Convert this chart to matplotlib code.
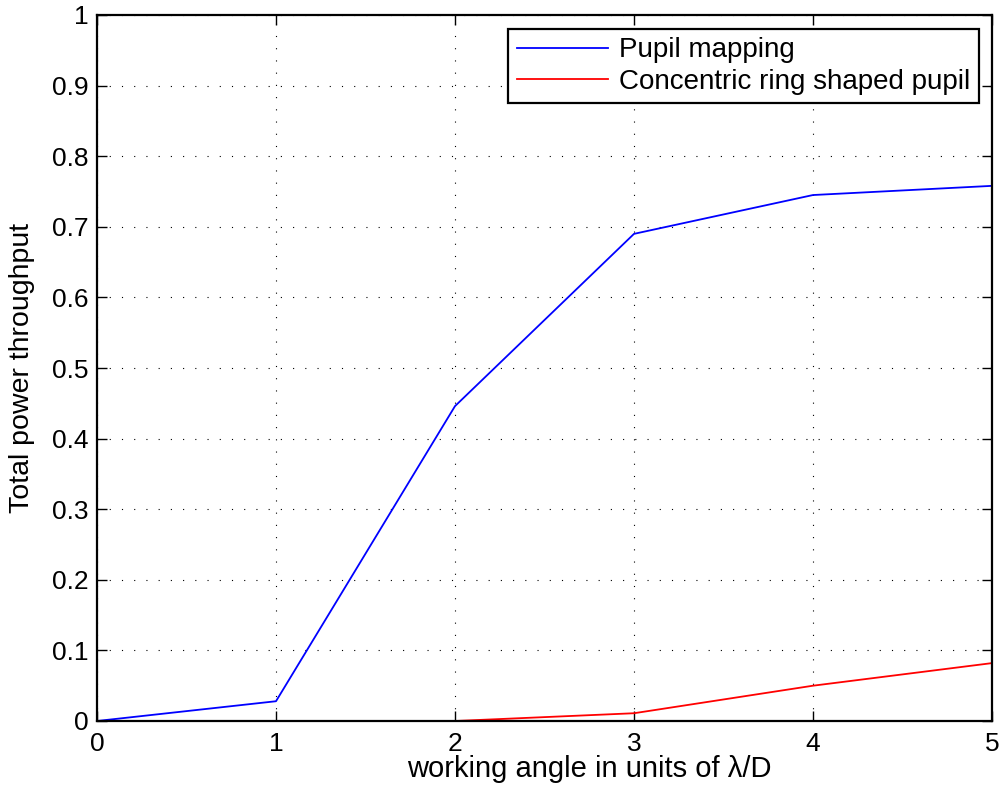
import matplotlib
matplotlib.use("Agg")
import matplotlib.pyplot as plt

plt.rcParams['font.family'] = ['Liberation Sans', 'DejaVu Sans']

angle = [0, 1, 2, 3, 4, 5]
pupil_mapping = [0.0, 0.028, 0.446, 0.690, 0.745, 0.758]
ring_pupil = [0.0, 0.0, 0.0, 0.011, 0.050, 0.082]

fig = plt.figure(figsize=(10.05, 8.01), dpi=100)
ax = fig.add_axes([97 / 1005, 80 / 801, 895 / 1005, 706 / 801])

ax.plot(angle, pupil_mapping, '-', color='#0000ff', lw=1.3, label='Pupil mapping')
ax.plot(angle, ring_pupil, '-', color='#ff0000', lw=1.3, label='Concentric ring shaped pupil')

ax.set_xlim(0, 5)
ax.set_ylim(0, 1)
ax.set_xticks(range(6))
ax.set_yticks([i / 10 for i in range(11)])
ax.set_yticklabels(['0', '0.1', '0.2', '0.3', '0.4', '0.5', '0.6', '0.7', '0.8', '0.9', '1'])
# matlab style dotted grid
ax.grid(True, color='black', linestyle=(0, (1, 10)), linewidth=0.8)
ax.tick_params(direction='in', length=7, width=1, labelsize=19, top=True, right=True)
ax.tick_params(axis='x', pad=8)
ax.tick_params(axis='y', pad=6)
for s in ax.spines.values():
    s.set_linewidth(1.6)

ax.set_xlabel('working angle in units of λ/D', fontsize=21, va='center')
ax.xaxis.set_label_coords(0.55, -0.068)
ax.set_ylabel('Total power throughput', fontsize=20.5, va='center')
ax.yaxis.set_label_coords(-0.084, 0.5)

leg = ax.legend(loc='upper right', bbox_to_anchor=(0.9855, 0.980), fontsize=20,
                fancybox=False, framealpha=1, edgecolor='black', borderaxespad=0,
                handlelength=3.3, borderpad=0.3, labelspacing=0.2, handletextpad=0.4)
leg.get_frame().set_linewidth(1.6)

fig.savefig('out.png', dpi=100)
